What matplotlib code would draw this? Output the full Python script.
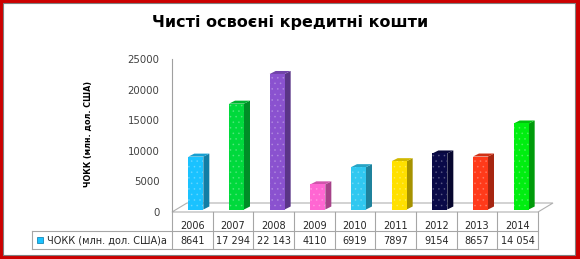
import matplotlib.pyplot as plt
from matplotlib.patches import Polygon, Rectangle
from matplotlib.lines import Line2D
import numpy as np

years = ['2006', '2007', '2008', '2009', '2010', '2011', '2012', '2013', '2014']
values = [8641, 17294, 22143, 4110, 6919, 7897, 9154, 8657, 14054]
value_labels = ['8641', '17 294', '22 143', '4110', '6919', '7897', '9154', '8657', '14 054']
bar_colors = ['#1AC2FF', '#00D93C', '#8A52CF', '#FF66D2', '#30C8F0',
              '#FFE000', '#0A0A48', '#FF3A1A', '#00EE10']
y_ticks = [0, 5000, 10000, 15000, 20000, 25000]
title = 'Чисті освоєні кредитні кошти'
series_name = 'ЧОКК (млн. дол. США)'

plt.rcParams['hatch.linewidth'] = 0.5

W, H = 580, 259
fig = plt.figure(figsize=(5.8, 2.59), dpi=100)
fig.patch.set_facecolor('#CC0000')


def fx(px):
    return px / W


def fy(py):
    return 1 - py / H


def fline(xs, ys, **kw):
    fig.add_artist(Line2D([fx(x) for x in xs], [fy(y) for y in ys],
                          transform=fig.transFigure, **kw))


# white chart area inside red frame
fig.add_artist(Rectangle((fx(3), fy(255)), (575 - 3) / W, (255 - 3) / H,
                         transform=fig.transFigure, facecolor='white',
                         edgecolor='#7F7F7F', lw=0.8, zorder=-10))

# plot area in pixels
x0, x1 = 172, 538
y_top, y_zero = 59, 212
ax = fig.add_axes([fx(x0), fy(y_zero), (x1 - x0) / W, (y_zero - y_top) / H])
ax.set_xlim(-0.5, 8.5)
ax.set_ylim(0, 25000)
ax.patch.set_alpha(0)
for s in ['top', 'right', 'bottom']:
    ax.spines[s].set_visible(False)
ax.spines['left'].set_color('#A0A0A0')
ax.spines['left'].set_linewidth(0.8)
ax.set_xticks([])
ax.set_yticks(y_ticks)
ax.set_yticklabels([str(t) for t in y_ticks])
ax.tick_params(axis='y', length=0, pad=9, labelsize=7.3, labelcolor='#404040')

# floor
fdx, fdy = 15, 9
fig.add_artist(Polygon([(fx(x0), fy(y_zero)), (fx(x0 + fdx), fy(y_zero - fdy)),
                        (fx(x1 + fdx), fy(y_zero - fdy)), (fx(x1), fy(y_zero))],
                       closed=True, transform=fig.transFigure,
                       facecolor='white', edgecolor='#B0B0B0', lw=0.8, zorder=-5))

# bars (pseudo 3d)
ux = 9 / (x1 - x0)          # data units per pixel (x)
uy = 25000 / (y_zero - y_top)  # data units per pixel (y)
xs = np.arange(len(years))
bw = 15 * ux
shift = 3.5 * ux
base = 2.5 * uy
ddx, ddy = 6 * ux, 3 * uy


def shade(c, f):
    r, g, b = plt.matplotlib.colors.to_rgb(c)
    return (r * f, g * f, b * f)


for xi, v, c in zip(xs, values, bar_colors):
    xl = xi + shift - bw / 2
    xr = xi + shift + bw / 2
    top = base + v
    ax.add_patch(Polygon([(xr, base), (xr + ddx, base + ddy), (xr + ddx, top + ddy), (xr, top)],
                         closed=True, facecolor=shade(c, 0.65), edgecolor='none', clip_on=False))
    ax.add_patch(Polygon([(xl, top), (xr, top), (xr + ddx, top + ddy), (xl + ddx, top + ddy)],
                         closed=True, facecolor=shade(c, 0.82), edgecolor='none', clip_on=False))
ax.bar(xs + shift, values, width=bw, bottom=base, color=bar_colors,
       edgecolor='none', clip_on=False)
# faint dotted texture like the original
ax.bar(xs + shift, values, width=bw, bottom=base, color='none', hatch='...',
       edgecolor=(1, 1, 1, 0.22), lw=0, clip_on=False)

# data table
gc = '#A6A6A6'
colw = (x1 - x0) / len(years)
row1, row2, row3 = y_zero, 231, 249
leg_x = 32
for k in range(len(years) + 1):
    fline([x0 + k * colw] * 2, [row1, row3], color=gc, lw=0.8)
fline([leg_x, x1], [row2, row2], color=gc, lw=0.8)
fline([leg_x, x1], [row3, row3], color=gc, lw=0.8)
fline([leg_x, leg_x], [row2, row3], color=gc, lw=0.8)
for k, (yr, vl) in enumerate(zip(years, value_labels)):
    cx = x0 + (k + 0.5) * colw
    fig.text(fx(cx), fy(226), yr, ha='center', va='center', fontsize=7, color='#262626')
    fig.text(fx(cx), fy(240.5), vl, ha='center', va='center', fontsize=7, color='#262626')

# legend key in table
fig.add_artist(Rectangle((fx(37), fy(242.5)), 6 / W, 6 / H, transform=fig.transFigure,
                         facecolor=bar_colors[0], edgecolor='#0077AA', lw=0.5))
fig.text(fx(47), fy(240.5), series_name + 'а', ha='left', va='center',
         fontsize=7, color='#262626')

# titles
fig.text(fx(290), fy(22), title, ha='center', va='center', fontsize=11.5,
         fontweight='bold', color='black')
fig.text(fx(88), fy(134), series_name, ha='center', va='center', rotation=90,
         fontsize=5.8, fontweight='bold', color='black')

fig.savefig('out.png', dpi=100)
